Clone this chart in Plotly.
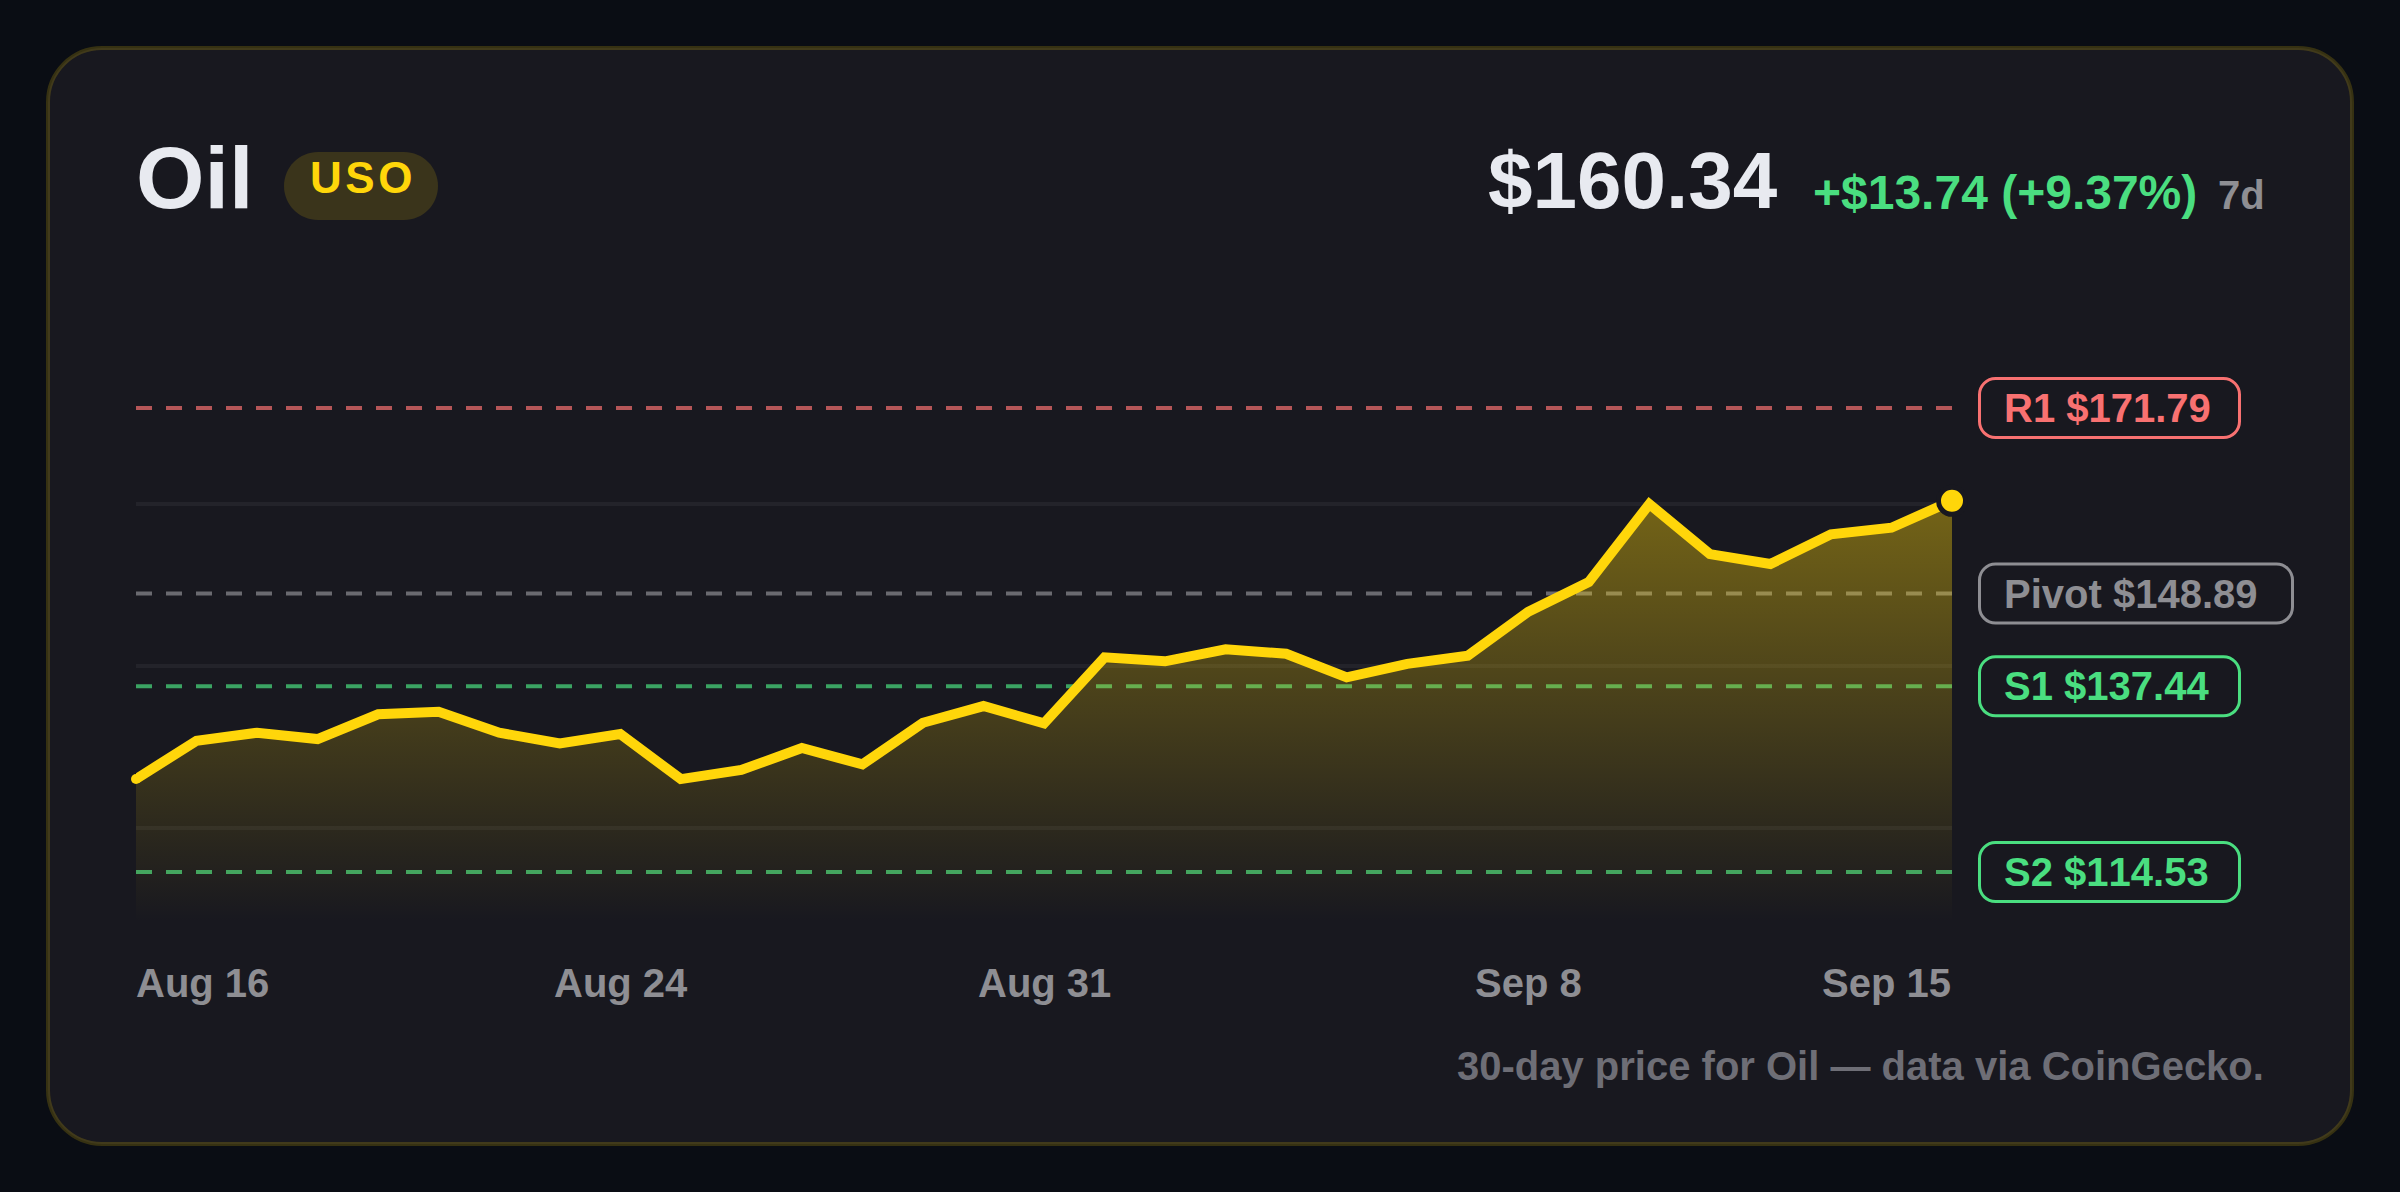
import pandas as pd
import plotly.graph_objects as go

W, H = 2400, 1192

# ---- data ----
dates = pd.date_range("2025-08-16", periods=31, freq="D").strftime("%Y-%m-%d").tolist()
prices = [126.00, 130.73, 131.72, 130.94, 133.99, 134.31, 131.72, 130.41, 131.56, 126.00,
          127.12, 129.83, 127.81, 132.95, 135.01, 132.88, 141.02, 140.53, 142.01, 141.47,
          138.56, 140.22, 141.22, 146.65, 150.32, 159.94, 153.77, 152.54, 156.20, 157.02, 160.34]
level_names = ["R1", "Pivot", "S1", "S2"]
level_values = [171.79, 148.89, 137.44, 114.53]
level_colors = ["#f87171", "#8e8e93", "#4ade80", "#4ade80"]
level_pill_widths = [260, 313, 260, 260]
tick_dates = ["2025-08-16", "2025-08-24", "2025-08-31", "2025-09-08", "2025-09-15"]
tick_labels = ["Aug 16", "Aug 24", "Aug 31", "Sep 8", "Sep 15"]
tick_anchors = ["left", "center", "center", "center", "right"]
tick_shifts = [-1.5, 0.5, 0, 0, 0]
grid_values = [120, 140, 160]

# ---- style ----
PAGE = "#0a0d14"
CARD = "#18181f"
YEL = "#ffd60a"
FONT = "Liberation Sans"
Y_MIN, Y_MAX = 108.36, 177.72
PLOT = dict(l=136, r=1952, t=360, b=922)


def px(x):
    return x / W


def py(y):
    return 1 - y / H


def rr_points(x0, y0, x1, y1, r, fx, fy):
    k = r * 0.4477
    p = [
        ("M", (x0 + r, y0)), ("L", (x1 - r, y0)),
        ("C", (x1 - k, y0), (x1, y0 + k), (x1, y0 + r)), ("L", (x1, y1 - r)),
        ("C", (x1, y1 - k), (x1 - k, y1), (x1 - r, y1)), ("L", (x0 + r, y1)),
        ("C", (x0 + k, y1), (x0, y1 - k), (x0, y1 - r)), ("L", (x0, y0 + r)),
        ("C", (x0, y0 + k), (x0 + k, y0), (x0 + r, y0)),
    ]
    out = []
    for seg in p:
        out.append(seg[0] + " ".join(f"{fx(a):.6f},{fy(b):.6f}" for a, b in seg[1:]))
    return " ".join(out) + " Z"


fig = go.Figure()

# dashed levels under the area fill
for n, v, c in zip(level_names, level_values, level_colors):
    fig.add_trace(go.Scatter(x=[dates[0], dates[-1]], y=[v, v], mode="lines", name=n,
                             line=dict(color=c, width=4, dash="16px,14px"),
                             opacity=0.7, hoverinfo="skip", showlegend=False))

# gradient area
fig.add_trace(go.Scatter(x=dates, y=prices, mode="none", fill="tozeroy",
                         fillgradient=dict(type="vertical", start=Y_MIN, stop=max(prices),
                                           colorscale=[[0, "rgba(255,214,10,0)"],
                                                       [1, "rgba(255,214,10,0.4)"]]),
                         hoverinfo="skip", showlegend=False))
# price line
fig.add_trace(go.Scatter(x=dates, y=prices, mode="lines", cliponaxis=False,
                         line=dict(color=YEL, width=10),
                         hoverinfo="skip", showlegend=False))
# round start cap
fig.add_trace(go.Scatter(x=[dates[0]], y=[prices[0]], mode="markers", cliponaxis=False,
                         marker=dict(color=YEL, size=10),
                         hoverinfo="skip", showlegend=False))
# last point
fig.add_trace(go.Scatter(x=[dates[-1]], y=[prices[-1]], mode="markers", cliponaxis=False,
                         marker=dict(color=YEL, size=27, line=dict(color=CARD, width=5)),
                         hoverinfo="skip", showlegend=False))

shapes = [
    dict(type="path", xref="paper", yref="paper", layer="below",
         path=rr_points(48, 48, 2352, 1144, 54, px, py),
         fillcolor=CARD, line=dict(color="rgba(255,214,10,0.18)", width=4)),
    dict(type="path", xref="paper", yref="paper", layer="below",
         path=rr_points(284, 152, 438, 220, 34, px, py),
         fillcolor="rgba(255,214,10,0.15)", line=dict(width=0)),
]
for v, c, w in zip(level_values, level_colors, level_pill_widths):
    shapes.append(dict(type="path", xref="paper", yref="y", xsizemode="pixel", ysizemode="pixel",
                       xanchor=px(1979.5), yanchor=v,
                       path=rr_points(0, -29.5, w, 29.5, 16, float, float),
                       fillcolor="rgba(0,0,0,0)", line=dict(color=c, width=3)))

annotations = []


def text(s, x, baseline, size, color, anchor="left", xref="paper", xshift=0):
    annotations.append(dict(text=s, x=px(x) if xref == "paper" else x, xref=xref, xanchor=anchor,
                            xshift=xshift,
                            y=py(baseline - 0.33 * size), yref="paper", yanchor="middle",
                            showarrow=False, borderpad=0,
                            font=dict(family=FONT, size=size, color=color, weight=700)))


text("Oil", 134.5, 207, 88, "#e8eaf0")
text('<span style="letter-spacing:3.52px">USO</span>', 309, 192, 44, YEL)
text("$160.34", 1778.5, 206.5, 80, "#e8eaf0", "right")
text("+$13.74 (+9.37%)", 2198, 208, 48, "#4ade80", "right")
text("7d", 2265.5, 208, 40, "#8e8e93", "right")
text("30-day price for Oil \u2014 data via CoinGecko.", 2265, 1079, 40, "#6e6e76", "right")
for d, lab, a, sh in zip(tick_dates, tick_labels, tick_anchors, tick_shifts):
    text(lab, d, 996, 40, "#8e8e93", a, xref="x", xshift=sh)
for n, v, c in zip(level_names, level_values, level_colors):
    annotations.append(dict(text=f'<span style="font-kerning:none">{n} ${v:.2f}</span>',
                            x=px(2002.5), xref="paper", xanchor="left",
                            y=v, yref="y", yanchor="middle", showarrow=False, borderpad=0,
                            font=dict(family=FONT, size=40, color=c, weight=700)))

fig.update_layout(
    width=W, height=H, margin=dict(l=0, r=0, t=0, b=0), autosize=False,
    paper_bgcolor=PAGE, plot_bgcolor="rgba(0,0,0,0)", showlegend=False,
    shapes=shapes, annotations=annotations, hovermode=False,
    xaxis=dict(domain=[px(PLOT["l"]), px(PLOT["r"])], type="date",
               range=[dates[0], dates[-1]], showgrid=False, zeroline=False,
               showline=False, showticklabels=False, ticks=""),
    yaxis=dict(domain=[py(PLOT["b"]), py(PLOT["t"])], range=[Y_MIN, Y_MAX],
               tickmode="array", tickvals=grid_values, showticklabels=False, ticks="",
               gridcolor="rgba(255,255,255,0.05)", gridwidth=4, zeroline=False, showline=False),
)

fig.write_html("out.html", config={"displayModeBar": False, "responsive": False},
               post_script="document.body.style.margin='0';document.body.style.background='%s';document.documentElement.style.overflow='hidden';" % PAGE)
